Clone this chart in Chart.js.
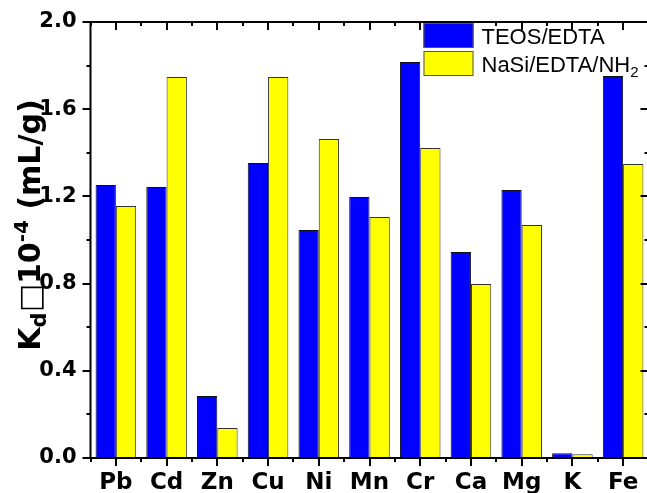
<!DOCTYPE html>
<html>
<head>
<meta charset="utf-8">
<script src="https://cdn.jsdelivr.net/npm/chart.js@4/dist/chart.umd.min.js"></script>
<style>
html, body { margin: 0; padding: 0; background: #fff; overflow: hidden; }
#wrap { width: 647px; height: 493px; overflow: hidden; }
canvas { display: block; }
</style>
</head>
<body>
<div id="wrap"><canvas id="kdChart" width="650" height="493"></canvas></div>
<script>
// valeurs (Kd x 10^-4, mL/g)
const metals = ["Pb", "Cd", "Zn", "Cu", "Ni", "Mn", "Cr", "Ca", "Mg", "K", "Fe"];
const teosEdta = [1.252, 1.243, 0.284, 1.353, 1.046, 1.197, 1.817, 0.945, 1.229, 0.022, 1.752];
const nasiEdtaNh2 = [1.156, 1.748, 0.138, 1.748, 1.463, 1.106, 1.422, 0.798, 1.069, 0.017, 1.349];
const yTicks = [0.0, 0.4, 0.8, 1.2, 1.6, 2.0];
const yMinorTicks = [0.2, 0.6, 1.0, 1.4, 1.8];
const seriesLabels = ["TEOS/EDTA", "NaSi/EDTA/NH₂"];

const boldFont = "'DejaVu Sans', sans-serif";

// cadre + petites graduations (haut, droite, mineures)
const framePlugin = {
    id: "frame",
    afterDraw(chart) {
        const { ctx, chartArea: a, scales: { x, y } } = chart;
        ctx.save();
        ctx.strokeStyle = "#000";
        ctx.lineWidth = 2;
        ctx.strokeRect(a.left, a.top, a.right - a.left, a.bottom - a.top);
        ctx.beginPath();
        yTicks.forEach(v => {
            const py = Math.round(y.getPixelForValue(v));
            ctx.moveTo(a.right, py); ctx.lineTo(a.right - 8, py);
        });
        yMinorTicks.forEach(v => {
            const py = Math.round(y.getPixelForValue(v));
            ctx.moveTo(a.left, py); ctx.lineTo(a.left - 4, py);
            ctx.moveTo(a.right, py); ctx.lineTo(a.right - 4, py);
        });
        metals.forEach((m, i) => {
            const px = Math.round(x.getPixelForValue(i));
            ctx.moveTo(px, a.top); ctx.lineTo(px, a.top + 8);
        });
        for (let i = 0; i <= metals.length; i++) {
            const px = Math.round(x.getPixelForValue(i - 0.5));
            ctx.moveTo(px, a.bottom); ctx.lineTo(px, a.bottom + 4);
            ctx.moveTo(px, a.top); ctx.lineTo(px, a.top + 4);
        }
        ctx.stroke();
        ctx.restore();
    }
};

// legende dessinee a la main (indice du NH2)
const legendPlugin = {
    id: "customLegend",
    afterDraw(chart) {
        const ctx = chart.ctx;
        const a = chart.chartArea;
        ctx.save();
        chart.data.datasets.forEach((ds, i) => {
            const bx = a.left + 333, by = a.top + 1 + i * 28;
            ctx.fillStyle = ds.backgroundColor;
            ctx.fillRect(bx, by, 50, 25);
            ctx.strokeStyle = "#555";
            ctx.lineWidth = 1;
            ctx.strokeRect(bx + 0.5, by + 0.5, 49, 24);
            ctx.fillStyle = "#000";
            ctx.textBaseline = "alphabetic";
            ctx.font = "22px 'Liberation Sans', Arial, sans-serif";
            let label = ds.label;
            const sub = label.endsWith("₂");
            if (sub) label = label.slice(0, -1);
            const tx = bx + 58, ty = by + 21;
            ctx.fillText(label, tx, ty);
            if (sub) {
                const w = ctx.measureText(label).width;
                ctx.font = "15px 'Liberation Sans', Arial, sans-serif";
                ctx.fillText("2", tx + w, ty + 5);
            }
        });
        ctx.restore();
    }
};

// titre de l'axe Y, tourne
const yTitlePlugin = {
    id: "yTitle",
    afterDraw(chart) {
        const ctx = chart.ctx;
        const parts = [
            { t: "K", s: 30, dy: 0 },
            { t: "d", s: 21, dy: 6 },
            { t: "□", s: 30, dy: 0 },
            { t: "10", s: 30, dy: 0 },
            { t: "-4", s: 20, dy: -12 },
            { t: " (mL/g)", s: 30, dy: 0 }
        ];
        ctx.save();
        let total = 0;
        parts.forEach(p => {
            ctx.font = "bold " + p.s + "px " + boldFont;
            p.w = ctx.measureText(p.t).width;
            total += p.w;
        });
        ctx.translate(40, 225);
        ctx.rotate(-Math.PI / 2);
        ctx.fillStyle = "#000";
        ctx.textBaseline = "alphabetic";
        let cx = -total / 2;
        parts.forEach(p => {
            ctx.font = "bold " + p.s + "px " + boldFont;
            ctx.fillText(p.t, cx, p.dy);
            cx += p.w;
        });
        ctx.restore();
    }
};

const kdChart = new Chart(document.getElementById("kdChart").getContext("2d"), {
    type: "bar",
    data: {
        labels: metals,
        datasets: [
            {
                label: seriesLabels[0],
                data: teosEdta,
                backgroundColor: "#0000ff",
                borderColor: "#111",
                borderWidth: 1,
                borderSkipped: "bottom"
            },
            {
                label: seriesLabels[1],
                data: nasiEdtaNh2,
                backgroundColor: "#ffff00",
                borderColor: "#333",
                borderWidth: 1,
                borderSkipped: "bottom"
            }
        ]
    },
    options: {
        responsive: false,
        animation: false,
        layout: { padding: { left: 0, top: 22, right: 1.5, bottom: 0 } },
        datasets: { bar: { categoryPercentage: 0.8, barPercentage: 1.0 } },
        scales: {
            x: {
                offset: true,
                grid: { display: true, drawOnChartArea: false, offset: false, drawTicks: true, tickLength: 8, color: "#000", lineWidth: 2 },
                border: { display: false },
                ticks: { color: "#000", padding: 3, font: { family: boldFont, weight: "bold", size: 23 } },
                afterFit: s => { s.height = 35; }
            },
            y: {
                min: 0,
                max: 2,
                afterBuildTicks: s => { s.ticks = yTicks.map(v => ({ value: v })); },
                grid: { display: true, drawOnChartArea: false, drawTicks: true, tickLength: 8, color: "#000", lineWidth: 2 },
                border: { display: false },
                ticks: {
                    color: "#000",
                    padding: 6,
                    font: { family: boldFont, weight: "bold", size: 21 },
                    callback: v => Number(v).toFixed(1)
                },
                afterFit: s => { s.width = 90.5; }
            }
        },
        plugins: {
            legend: { display: false },
            tooltip: { enabled: false }
        }
    },
    plugins: [framePlugin, legendPlugin, yTitlePlugin]
});
</script>
</body>
</html>
